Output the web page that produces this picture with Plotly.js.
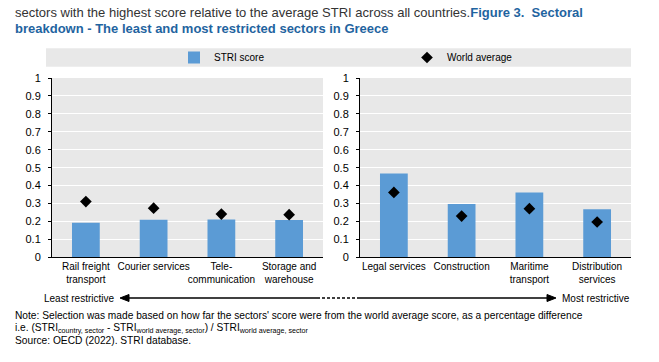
<!DOCTYPE html>
<html>
<head>
<meta charset="utf-8">
<script src="https://cdn.plot.ly/plotly-3.0.1.min.js"></script>
<style>
html,body{margin:0;padding:0;background:#fff;}
#chart{width:659px;height:362px;}
</style>
</head>
<body>
<div id="chart"></div>
<script>
// ---- data ----
var leastSectors = ["Rail freight<br>transport", "Courier services", "Tele-<br>communication", "Storage and<br>warehouse"];
var leastScore   = [0.193, 0.210, 0.211, 0.208];
var leastWorld   = [0.311, 0.274, 0.241, 0.238];

var mostSectors  = ["Legal services", "Construction", "Maritime<br>transport", "Distribution<br>services"];
var mostScore    = [0.468, 0.297, 0.362, 0.268];
var mostWorld    = [0.362, 0.230, 0.271, 0.197];

var yTickVals = [0, 0.1, 0.2, 0.3, 0.4, 0.5, 0.6, 0.7, 0.8, 0.9, 1];
var yTickText = ["0", "0.1", "0.2", "0.3", "0.4", "0.5", "0.6", "0.7", "0.8", "0.9", "1"];

var seriesNames = ["STRI score", "World average"];

// ---- style ----
var W = 659, H = 362;
var SANS = "Liberation Sans, Arial, sans-serif";
var BAR = "#5b9bd5";
var BG = "#e8e8e8";
function px(x){ return x / W; }
function py(y){ return (H - y) / H; }

var traces = [
  {type: "bar", x: leastSectors, y: leastScore, name: seriesNames[0], xaxis: "x", yaxis: "y",
   marker: {color: BAR}, width: 0.41, legend: "legend", showlegend: true, hoverinfo: "y"},
  {type: "scatter", mode: "markers", x: leastSectors, y: leastWorld, name: seriesNames[1], xaxis: "x", yaxis: "y",
   marker: {symbol: "diamond", color: "#000", size: 9}, legend: "legend2", showlegend: true, hoverinfo: "y"},
  {type: "bar", x: mostSectors, y: mostScore, name: seriesNames[0], xaxis: "x2", yaxis: "y2",
   marker: {color: BAR}, width: 0.41, showlegend: false, hoverinfo: "y"},
  {type: "scatter", mode: "markers", x: mostSectors, y: mostWorld, name: seriesNames[1], xaxis: "x2", yaxis: "y2",
   marker: {symbol: "diamond", color: "#000", size: 9}, showlegend: false, hoverinfo: "y"}
];

var yDomain = [py(257.3), py(78)];
function yAx(anchor){
  return {domain: yDomain, anchor: anchor, range: [0, 1], tickvals: yTickVals, ticktext: yTickText,
    showgrid: true, gridcolor: "#ffffff", gridwidth: 1, zeroline: false,
    showline: true, linecolor: "#000", linewidth: 1,
    ticks: "outside", ticklen: 3, tickcolor: "#000", ticklabelstandoff: 5,
    tickfont: {family: SANS, size: 11, color: "#000"}, fixedrange: true};
}
function xAx(domain, anchor){
  return {domain: domain, anchor: anchor, type: "category", range: [-0.5, 3.5],
    showline: true, linecolor: "#000", linewidth: 1, ticks: "", showgrid: false, zeroline: false,
    tickangle: 0, automargin: false,
    tickfont: {family: SANS, size: 10, color: "#000"}, fixedrange: true};
}

// arrow geometry (pixels)
var arrowY = 298, lTip = 120, rTip = 556, dashL = 317, dashR = 357, headL = 9, headH = 3.5;
function tri(tipX, baseX){
  return "M" + px(tipX) + "," + py(arrowY) + " L" + px(baseX) + "," + py(arrowY - headH) +
         " L" + px(baseX) + "," + py(arrowY + headH) + " Z";
}

var layout = {
  width: W, height: H,
  margin: {l: 0, r: 0, t: 0, b: 0, pad: 0},
  paper_bgcolor: "#ffffff",
  plot_bgcolor: BG,
  xaxis: xAx([px(52), px(323)], "y"),
  yaxis: yAx("x"),
  xaxis2: xAx([px(360), px(631)], "y2"),
  yaxis2: yAx("x2"),
  legend: {orientation: "h", x: px(174), xanchor: "left", y: py(57.5), yanchor: "middle",
    bgcolor: "rgba(0,0,0,0)", font: {family: SANS, size: 10, color: "#000"}},
  legend2: {orientation: "h", x: px(407), xanchor: "left", y: py(57.5), yanchor: "middle",
    bgcolor: "rgba(0,0,0,0)", font: {family: SANS, size: 10, color: "#000"}},
  shapes: [
    {type: "rect", xref: "paper", yref: "paper", x0: px(46), x1: px(631), y0: py(66.7), y1: py(48.3),
     fillcolor: BG, line: {width: 0}, layer: "below"},
    {type: "line", xref: "paper", yref: "paper", x0: px(lTip + 2), x1: px(dashL), y0: py(arrowY), y1: py(arrowY),
     line: {color: "#000", width: 1.3}},
    {type: "line", xref: "paper", yref: "paper", x0: px(dashL), x1: px(dashR), y0: py(arrowY), y1: py(arrowY),
     line: {color: "#000", width: 1.3, dash: "3px,2px"}},
    {type: "line", xref: "paper", yref: "paper", x0: px(dashR), x1: px(rTip - 2), y0: py(arrowY), y1: py(arrowY),
     line: {color: "#000", width: 1.3}},
    {type: "path", xref: "paper", yref: "paper", path: tri(lTip, lTip + headL), fillcolor: "#000", line: {color: "#000", width: 1}},
    {type: "path", xref: "paper", yref: "paper", path: tri(rTip, rTip - headL), fillcolor: "#000", line: {color: "#000", width: 1}}
  ],
  annotations: [
    {xref: "paper", yref: "paper", x: px(13), y: py(12), xanchor: "left", yanchor: "middle", showarrow: false,
     text: "sectors with the highest score relative to the average STRI across all countries.<span style='font-weight:bold;color:#1f64a0'>Figure 3.  Sectoral</span>",
     font: {family: SANS, size: 13, color: "#333"}},
    {xref: "paper", yref: "paper", x: px(13), y: py(29), xanchor: "left", yanchor: "middle", showarrow: false,
     text: "<b>breakdown - The least and most restricted sectors in Greece</b>",
     font: {family: SANS, size: 13, color: "#1f64a0"}},
    {xref: "paper", yref: "paper", x: px(116), y: py(arrowY), xanchor: "right", yanchor: "middle", showarrow: false,
     text: "Least restrictive", font: {family: SANS, size: 10, color: "#000"}},
    {xref: "paper", yref: "paper", x: px(560), y: py(arrowY), xanchor: "left", yanchor: "middle", showarrow: false,
     text: "Most restrictive", font: {family: SANS, size: 10, color: "#000"}},
    {xref: "paper", yref: "paper", x: px(13), y: py(315), xanchor: "left", yanchor: "middle", showarrow: false,
     text: "Note: Selection was made based on how far the sectors' score were from the world average score, as a percentage difference",
     font: {family: SANS, size: 10.2, color: "#000"}},
    {xref: "paper", yref: "paper", x: px(13), y: py(328), xanchor: "left", yanchor: "middle", showarrow: false,
     text: "i.e. (STRI<sub>country, sector</sub> - STRI<sub>world average, sector</sub>) / STRI<sub>world average, sector</sub>",
     font: {family: SANS, size: 10.2, color: "#000"}},
    {xref: "paper", yref: "paper", x: px(13), y: py(340), xanchor: "left", yanchor: "middle", showarrow: false,
     text: "Source: OECD (2022). STRI database.",
     font: {family: SANS, size: 10.2, color: "#000"}}
  ]
};

Plotly.newPlot("chart", traces, layout, {displayModeBar: false, staticPlot: true});
</script>
</body>
</html>
